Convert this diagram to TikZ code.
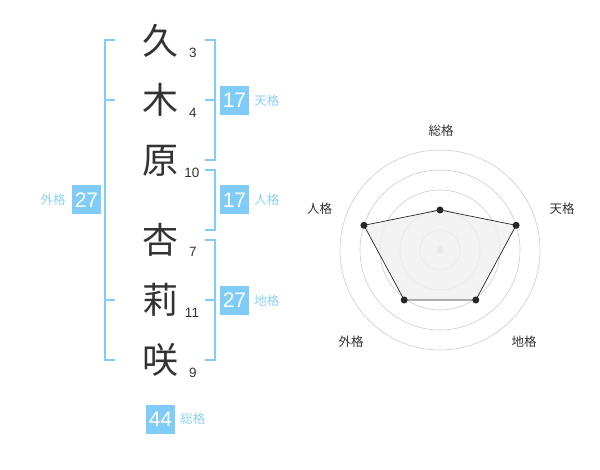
\documentclass[tikz,border=0pt]{standalone}
\usepackage{fontspec}
\usetikzlibrary{calc}
\setmainfont{Liberation Sans}
\newfontfamily\jp{Noto Sans CJK JP}
\definecolor{sky}{HTML}{80CCF8}
\definecolor{skytxt}{HTML}{8DD0F5}
\definecolor{ink}{HTML}{333333}
\definecolor{ring}{HTML}{CCCCCC}
\begin{document}
\begin{tikzpicture}[x=1pt,y=-1pt,
  kanji/.style={font=\jp\fontsize{36}{36}\selectfont, text=ink, inner sep=0pt},
  stroke/.style={font=\fontsize{13.5}{14}\selectfont, text=ink, inner sep=0pt},
  numbox/.style={fill=sky, text=white, font=\fontsize{21}{21}\selectfont, minimum width=29pt, minimum height=29pt, inner sep=0pt},
  kaku/.style={font=\jp\fontsize{12.5}{13}\selectfont, text=skytxt, inner sep=0pt},
  brk/.style={draw=sky, line width=2pt},
  rlabel/.style={font=\jp\fontsize{12.5}{13}\selectfont, text=ink, inner sep=0pt},
  ringc/.style={draw=ring, line width=0.6pt},
  dot/.style={circle, fill=black!85, inner sep=0pt, minimum size=7pt}]
\useasboundingbox (0,0) rectangle (600,470);
% kanji
\node[kanji] (k1) at (160,41) {久};
\node[kanji] (k2) at (160,100) {木};
\node[kanji] (k3) at (160,161) {原};
\node[kanji] (k4) at (160,240) {杏};
\node[kanji] (k5) at (160,300) {莉};
\node[kanji] (k6) at (160,360) {咲};
% stroke counts
\node[stroke] (s1) at (193,53) {3};
\node[stroke] (s2) at (193,113) {4};
\node[stroke] (s3) at (192,173) {10};
\node[stroke] (s4) at (193,252) {7};
\node[stroke] (s5) at (192,313) {11};
\node[stroke] (s6) at (193,373) {9};
% brackets
\draw[brk] (115,40) -- (105,40) -- (105,360) -- (115,360);
\draw[brk] (105,100) -- (115,100);
\draw[brk] (105,300) -- (115,300);
\draw[brk] (205,40) -- (215,40) -- (215,160) -- (205,160);
\draw[brk] (205,100) -- (215,100);
\draw[brk] (205,170) -- (215,170) -- (215,230) -- (205,230);
\draw[brk] (205,240) -- (215,240) -- (215,360) -- (205,360);
\draw[brk] (205,300) -- (215,300);
% boxes
\node[numbox] (ten) at (234.5,100.5) {17};
\node[kaku, anchor=west] (tenl) at ([xshift=5pt]ten.east) {天格};
\node[numbox] (jin) at (234.5,200) {17};
\node[kaku, anchor=west] (jinl) at ([xshift=5pt]jin.east) {人格};
\node[numbox] (chi) at (234.5,300.5) {27};
\node[kaku, anchor=west] (chil) at ([xshift=5pt]chi.east) {地格};
\node[numbox] (gai) at (86.5,200) {27};
\node[kaku, anchor=east] (gail) at ([xshift=-6pt]gai.west) {外格};
\node[numbox] (sou) at (160.5,419) {44};
\node[kaku, anchor=west] (soul) at ([xshift=5pt]sou.east) {総格};
% radar
\coordinate (c) at (440,250);
\foreach \r in {20,40,60,80,100} \draw[ringc] (c) circle[radius=\r];
\fill[ring] (c) circle[radius=3.5];
\coordinate (p1) at ($(c)+(0,-40)$);
\coordinate (p2) at ($(c)+(76.1,-24.7)$);
\coordinate (p3) at ($(c)+(35.8,50)$);
\coordinate (p4) at ($(c)+(-35.8,50)$);
\coordinate (p5) at ($(c)+(-76.1,-24.7)$);
\filldraw[fill=black!6, fill opacity=0.8, draw=black!85, line width=0.7pt] (p1) -- (p2) -- (p3) -- (p4) -- (p5) -- cycle;
\foreach \p in {p1,p2,p3,p4,p5} \node[dot] at (\p) {};
\node[rlabel] (r1) at (441,130.5) {総格};
\node[rlabel] (r2) at (562,209) {天格};
\node[rlabel] (r3) at (524,342) {地格};
\node[rlabel] (r4) at (351,342) {外格};
\node[rlabel] (r5) at (319.5,209) {人格};
\end{tikzpicture}
\end{document}
